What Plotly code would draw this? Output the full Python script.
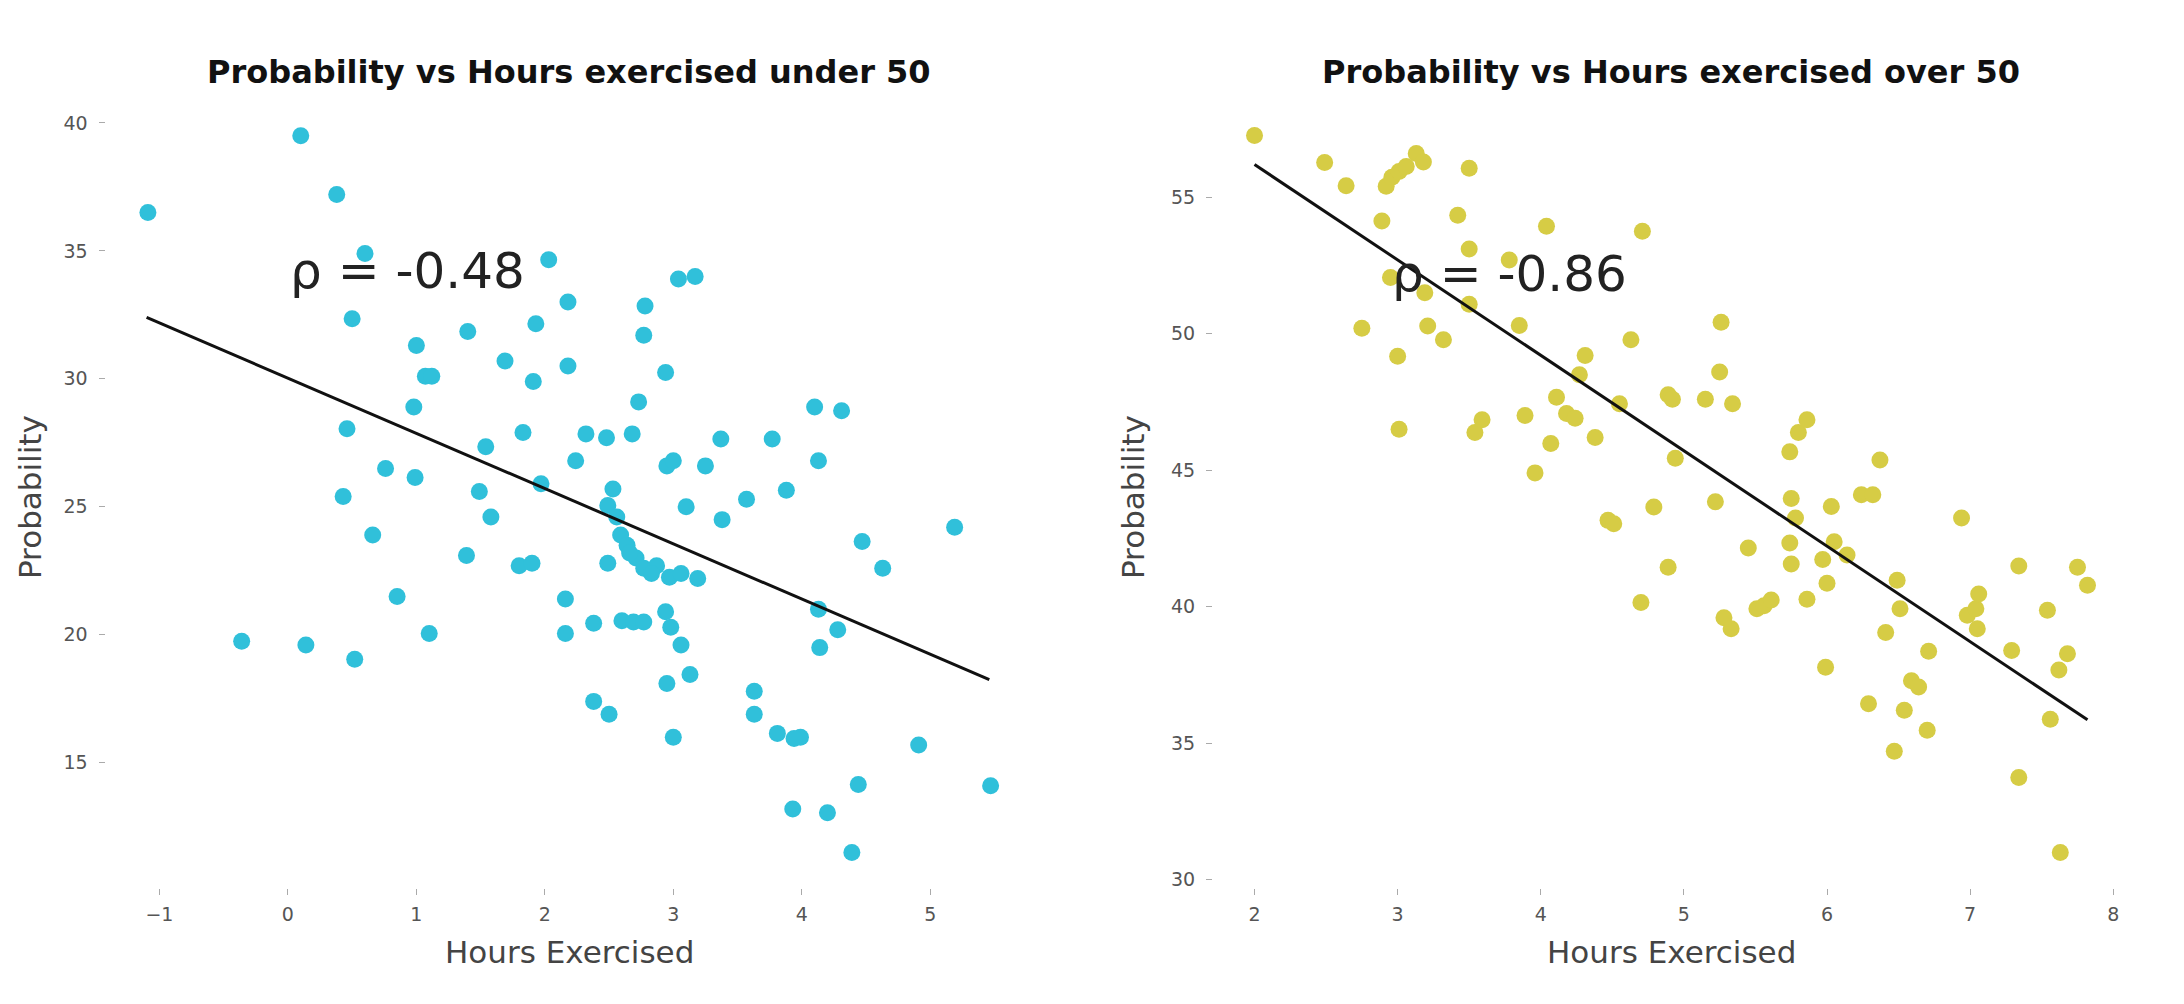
import plotly.graph_objects as go

# under 50 group
left_hours = [-1.09, 0.10, 0.38, 0.60, 0.50, 0.46, 0.43, -0.36, 0.14, 0.52,
              0.76, 0.66, 0.85, 0.99, 0.98, 1.00, 1.07, 1.12, 1.10, 1.40,
              1.54, 1.49, 1.58, 1.39, 1.69, 1.83, 1.91, 1.93, 1.80, 1.90,
              1.97, 2.03, 2.18, 2.18, 2.24, 2.16, 2.16, 2.32, 2.48, 2.38,
              2.38, 2.50, 2.53, 2.49, 2.49, 2.59, 2.64, 2.68, 2.73, 2.77,
              2.78, 2.71, 2.77, 2.60, 2.69, 2.77, 2.94, 2.95, 3.00, 2.87,
              2.97, 3.06, 3.19, 2.94, 2.98, 3.06, 2.95, 3.13, 3.00, 3.04,
              3.17, 3.10, 3.25, 3.37, 3.38, 3.57, 3.77, 3.88, 3.63, 3.63,
              3.81, 3.99, 3.93, 4.10, 4.13, 4.13, 4.14, 4.28, 4.31, 4.20,
              4.39, 4.44, 4.47, 4.63, 4.91, 5.19, 5.47, 2.56, 2.66, 2.83,
              3.94]
left_prob = [36.5, 39.5, 37.2, 34.9, 32.35, 28.05, 25.4, 19.75, 19.6, 19.05,
             26.5, 23.9, 21.5, 26.15, 28.9, 31.3, 30.1, 30.1, 20.05, 31.85,
             27.35, 25.6, 24.6, 23.1, 30.7, 27.9, 29.9, 32.15, 22.7, 22.8,
             25.9, 34.65, 33.0, 30.5, 26.8, 21.4, 20.05, 27.85, 27.7, 20.45,
             17.4, 16.9, 25.7, 25.05, 22.8, 23.9, 23.5, 27.85, 29.1, 31.7,
             32.85, 23.0, 22.6, 20.55, 20.5, 20.5, 30.25, 26.6, 26.8, 22.7,
             22.25, 22.4, 22.2, 20.9, 20.3, 19.6, 18.1, 18.45, 16.0, 33.9,
             34.0, 25.0, 26.6, 27.65, 24.5, 25.3, 27.65, 25.65, 17.8, 16.9,
             16.15, 16.0, 13.2, 28.9, 26.8, 21.0, 19.5, 20.2, 28.75, 13.05,
             11.5, 14.15, 23.65, 22.6, 15.7, 24.2, 14.1, 24.6, 23.2, 22.4,
             15.95]
left_fit_x = [-1.10, 5.46]
left_fit_y = [32.4, 18.25]
left_rho = "ρ = -0.48"

# over 50 group
right_hours = [2.00, 2.49, 2.64, 2.89, 2.92, 2.96, 3.01, 3.06, 3.13, 3.18,
               2.95, 2.75, 3.00, 3.01, 3.21, 3.32, 3.19, 3.42, 3.50, 3.50,
               3.50, 3.54, 3.59, 3.78, 3.85, 3.89, 3.96, 4.04, 4.11, 4.18,
               4.24, 4.07, 4.31, 4.27, 4.38, 4.47, 4.51, 4.55, 4.63, 4.71,
               4.70, 4.79, 4.89, 4.92, 4.94, 4.89, 5.15, 5.26, 5.25, 5.34,
               5.22, 5.28, 5.33, 5.45, 5.51, 5.56, 5.61, 5.74, 5.75, 5.78,
               5.74, 5.75, 5.80, 5.86, 5.86, 5.97, 6.00, 5.99, 6.03, 6.05,
               6.14, 6.24, 6.32, 6.37, 6.29, 6.41, 6.49, 6.51, 6.47, 6.54,
               6.59, 6.64, 6.70, 6.71, 6.94, 6.98, 7.04, 7.06, 7.05, 7.29,
               7.34, 7.34, 7.54, 7.56, 7.63, 7.62, 7.68, 7.75, 7.82]
right_prob = [57.26, 56.27, 55.42, 54.13, 55.4, 55.73, 55.94, 56.13, 56.6, 56.29,
              52.06, 50.2, 49.17, 46.5, 50.28, 49.78, 51.5, 54.34, 56.06, 53.1,
              51.08, 46.38, 46.85, 52.7, 50.3, 47.0, 44.9, 53.94, 47.67, 47.08,
              46.9, 45.98, 49.2, 48.5, 46.2, 43.16, 43.04, 47.43, 49.78, 53.75,
              40.15, 43.65, 47.76, 47.6, 45.44, 41.44, 47.6, 50.42, 48.6, 47.43,
              43.84, 39.59, 39.19, 42.15, 39.92, 40.03, 40.24, 45.67, 43.96, 43.25,
              42.33, 41.56, 46.38, 46.85, 40.27, 41.73, 40.86, 37.78, 43.67, 42.38,
              41.89, 44.1, 44.1, 45.37, 36.44, 39.05, 40.97, 39.92, 34.7, 36.2,
              37.28, 37.05, 35.47, 38.36, 43.25, 39.68, 39.92, 40.46, 39.19, 38.39,
              41.49, 33.74, 39.87, 35.87, 30.99, 37.68, 38.27, 41.44, 40.78]
right_fit_x = [2.0, 7.82]
right_fit_y = [56.2, 35.85]
right_rho = "ρ = -0.86"

titles = ["Probability vs Hours exercised under 50",
          "Probability vs Hours exercised over 50"]

W, H = 2184, 1004

fig = go.Figure()

fig.add_trace(go.Scatter(x=left_hours, y=left_prob, mode="markers",
                         marker=dict(size=17, color="#30C0DA"),
                         xaxis="x", yaxis="y", showlegend=False))
fig.add_trace(go.Scatter(x=left_fit_x, y=left_fit_y, mode="lines",
                         line=dict(color="#111111", width=3),
                         xaxis="x", yaxis="y", showlegend=False))
fig.add_trace(go.Scatter(x=right_hours, y=right_prob, mode="markers",
                         marker=dict(size=17, color="#D6CC45"),
                         xaxis="x2", yaxis="y2", showlegend=False))
fig.add_trace(go.Scatter(x=right_fit_x, y=right_fit_y, mode="lines",
                         line=dict(color="#111111", width=3),
                         xaxis="x2", yaxis="y2", showlegend=False))

tick_font = dict(family="DejaVu Sans", size=19, color="#555555")
common = dict(showgrid=False, zeroline=False, showline=False,
              ticks="outside", ticklen=6, tickcolor="#aaaaaa",
              tickfont=tick_font)

left_dom = [97.5 / W, 1025 / W]
right_dom = [1205 / W, 2121 / W]
y_dom = [1 - 882 / H, 1 - 92 / H]

fig.update_layout(
    width=W, height=H,
    margin=dict(l=0, r=0, t=0, b=0),
    paper_bgcolor="white", plot_bgcolor="white",
    xaxis=dict(domain=left_dom, range=[-1.42, 5.80], dtick=1, anchor="y",
               ticklabelstandoff=3, **common),
    yaxis=dict(domain=y_dom, range=[10.1, 40.9], dtick=5, anchor="x",
               ticklabelstandoff=7, **common),
    xaxis2=dict(domain=right_dom, range=[1.71, 8.11], dtick=1, anchor="y2",
                ticklabelstandoff=3, **common),
    yaxis2=dict(domain=y_dom, range=[29.68, 58.57], dtick=5, anchor="x2",
                ticklabelstandoff=7, **common),
)

label_font = dict(family="DejaVu Sans", size=31, color="#444444")
title_font = dict(family="DejaVu Sans", size=32, color="#111111")
rho_font = dict(family="DejaVu Sans", size=50, color="#222222")

for i, dom in enumerate([left_dom, right_dom]):
    mid = (dom[0] + dom[1]) / 2
    fig.add_annotation(text="<b>" + titles[i] + "</b>", xref="paper", yref="paper",
                       x=mid, y=1 - 64 / H, xanchor="center", yanchor="middle",
                       showarrow=False, font=title_font)
    fig.add_annotation(text="Hours Exercised", xref="paper", yref="paper",
                       x=mid, y=1 - 946 / H, xanchor="center", yanchor="middle",
                       showarrow=False, font=label_font)

fig.add_annotation(text="Probability", xref="paper", yref="paper",
                   x=22 / W, y=1 - 490 / H, textangle=-90,
                   xanchor="center", yanchor="middle", showarrow=False, font=label_font)
fig.add_annotation(text="Probability", xref="paper", yref="paper",
                   x=1125 / W, y=1 - 490 / H, textangle=-90,
                   xanchor="center", yanchor="middle", showarrow=False, font=label_font)

fig.add_annotation(text=left_rho, xref="x", yref="y", x=0.0, y=34.2,
                   xanchor="left", yanchor="middle", showarrow=False, font=rho_font)
fig.add_annotation(text=right_rho, xref="x2", yref="y2", x=2.95, y=52.2,
                   xanchor="left", yanchor="middle", showarrow=False, font=rho_font)

fig.write_html("out.html")
